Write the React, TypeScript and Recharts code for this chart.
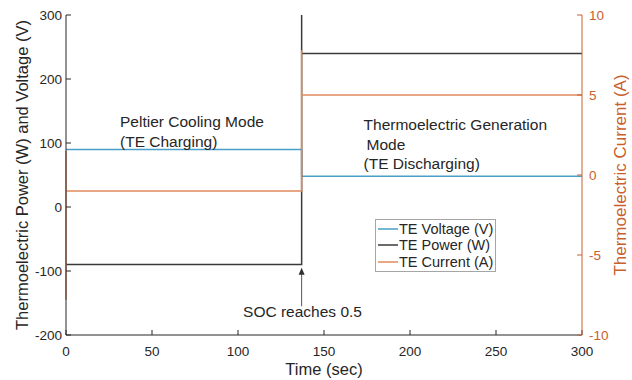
import React from 'react';
import { ComposedChart, Line, XAxis, YAxis, Legend, ReferenceDot, ReferenceLine } from 'recharts';

// ---- data ----
const voltageTime = [0, 137, 137, 300];
const voltageValues = [90, 90, 48, 48];

const powerTime = [0, 137, 137, 137, 300];
const powerValues = [-90, -90, 420, 240, 240];

const currentTime = [0, 0, 0, 137, 137, 137, 300];
const currentValues = [-7.8, 1.5, -1, -1, 7.8, 5, 5];

const timeTicks = [0, 50, 100, 150, 200, 250, 300];
const leftTicks = [-200, -100, 0, 100, 200, 300];
const rightTicks = [-10, -5, 0, 5, 10];

const seriesNames = ['TE Voltage (V)', 'TE Power (W)', 'TE Current (A)'];
const coolingText = ['Peltier Cooling Mode', '(TE Charging)'];
const generationText = ['Thermoelectric Generation', 'Mode', '(TE Discharging)'];
const socText = 'SOC reaches 0.5';

// ---- styles ----
const FONT = '"Liberation Sans", Arial, sans-serif';
const TEXT = '#262626';
const BLUE = '#4A9FC8';
const BLACK = '#3A3A3A';
const ORANGE = '#E08A5C';
const RIGHT_AXIS = '#C8612E';
const colors = [BLUE, BLACK, ORANGE];

const toPoints = (t: number[], v: number[]) => t.map((x, i) => ({ t: x, v: v[i] }));
const voltageData = toPoints(voltageTime, voltageValues);
const powerData = toPoints(powerTime, powerValues);
const currentData = toPoints(currentTime, currentValues);

const multiLine = (lines: string[], anchor: string, offsets: number[] = []) => (p: any) => (
  <text x={p.cx} y={p.cy} fontSize={15.5} fill={TEXT} fontFamily={FONT} textAnchor={anchor}>
    {lines.map((l, i) => (
      <tspan key={i} x={p.cx + (offsets[i] || 0)} y={p.cy + i * 19.5}>
        {l}
      </tspan>
    ))}
  </text>
);

const arrowHead = (p: any) => (
  <polygon points={`${p.cx},${p.cy} ${p.cx - 3},${p.cy + 7} ${p.cx + 3},${p.cy + 7}`} fill="#303030" />
);

const renderLegend = () => (
  <div
    style={{
      border: '1px solid #A6A6A6',
      background: '#fff',
      padding: '1px 2px 1px 1px',
      fontFamily: FONT,
      fontSize: 14.5,
      color: TEXT,
      lineHeight: '16.3px',
    }}
  >
    {seriesNames.map((n, i) => (
      <div key={n} style={{ display: 'flex', alignItems: 'center', whiteSpace: 'nowrap' }}>
        <svg width={21} height={8} style={{ display: 'block', marginRight: 1 }}>
          <line x1={1} y1={4} x2={21} y2={4} stroke={colors[i]} strokeWidth={1.5} />
        </svg>
        <span>{n}</span>
      </div>
    ))}
  </div>
);

export default function App() {
  return (
    <div style={{ position: 'absolute', left: 0, top: 0, width: 632, height: 380, background: '#fff' }}>
      <ComposedChart width={632} height={380} margin={{ top: 15, right: 0, bottom: 0, left: 0 }}>
        <XAxis
          xAxisId="bottom"
          dataKey="t"
          type="number"
          domain={[0, 300]}
          ticks={timeTicks}
          height={45}
          tickSize={-5}
          tickMargin={16}
          stroke={TEXT}
          tick={{ fill: TEXT, fontSize: 13.5, fontFamily: FONT }}
          allowDuplicatedCategory
          label={{ value: 'Time (sec)', position: 'insideBottom', offset: 5, fill: TEXT, fontSize: 16.5, fontFamily: FONT }}
        />
        <XAxis
          xAxisId="top"
          orientation="top"
          dataKey="t"
          type="number"
          domain={[0, 300]}
          ticks={timeTicks}
          height={0}
          tickSize={-5}
          tick={false}
          stroke={TEXT}
        />
        <YAxis
          yAxisId="left"
          type="number"
          domain={[-200, 300]}
          ticks={leftTicks}
          allowDataOverflow
          width={66}
          tickSize={-5}
          tickMargin={9}
          stroke={TEXT}
          tick={{ fill: TEXT, fontSize: 13.5, fontFamily: FONT }}
          label={{
            value: 'Thermoelectric Power (W) and Voltage (V)',
            angle: -90,
            position: 'center',
            dx: -11,
            fill: TEXT,
            fontSize: 16.5,
            fontFamily: FONT,
          }}
        />
        <YAxis
          yAxisId="right"
          orientation="right"
          type="number"
          domain={[-10, 10]}
          ticks={rightTicks}
          allowDataOverflow
          width={50}
          tickSize={-5}
          tickMargin={12}
          stroke={RIGHT_AXIS}
          tick={{ fill: RIGHT_AXIS, fontSize: 13.5, fontFamily: FONT }}
          label={{
            value: 'Thermoelectric Current (A)',
            angle: -90,
            position: 'center',
            dx: 13,
            fill: RIGHT_AXIS,
            fontSize: 17,
            fontFamily: FONT,
          }}
        />
        <Line
          data={voltageData}
          dataKey="v"
          xAxisId="bottom"
          yAxisId="left"
          type="linear"
          stroke={BLUE}
          strokeWidth={1.5}
          dot={false}
          isAnimationActive={false}
          name={seriesNames[0]}
        />
        <Line
          data={powerData}
          dataKey="v"
          xAxisId="bottom"
          yAxisId="left"
          type="linear"
          stroke={BLACK}
          strokeWidth={1.5}
          dot={false}
          isAnimationActive={false}
          name={seriesNames[1]}
        />
        <Line
          data={currentData}
          dataKey="v"
          xAxisId="bottom"
          yAxisId="right"
          type="linear"
          stroke={ORANGE}
          strokeWidth={1.5}
          dot={false}
          isAnimationActive={false}
          name={seriesNames[2]}
        />
        <ReferenceDot xAxisId="bottom" yAxisId="left" x={31.4} y={125} r={0} shape={multiLine(coolingText, 'start')} />
        <ReferenceDot
          xAxisId="bottom"
          yAxisId="left"
          x={173}
          y={120}
          r={0}
          shape={multiLine(generationText, 'start', [0, 3, 0])}
        />
        <ReferenceDot xAxisId="bottom" yAxisId="left" x={137.5} y={-172} r={0} shape={multiLine([socText], 'middle')} />
        <ReferenceLine
          xAxisId="bottom"
          yAxisId="left"
          segment={[
            { x: 137, y: -155 },
            { x: 137, y: -104 },
          ]}
          stroke="#555"
          strokeWidth={1}
        />
        <ReferenceDot xAxisId="bottom" yAxisId="left" x={137} y={-95} r={0} shape={arrowHead} />
        <Legend
          layout="vertical"
          align="center"
          verticalAlign="middle"
          wrapperStyle={{ left: 375, top: 219, width: 'auto' }}
          content={renderLegend}
        />
      </ComposedChart>
    </div>
  );
}
